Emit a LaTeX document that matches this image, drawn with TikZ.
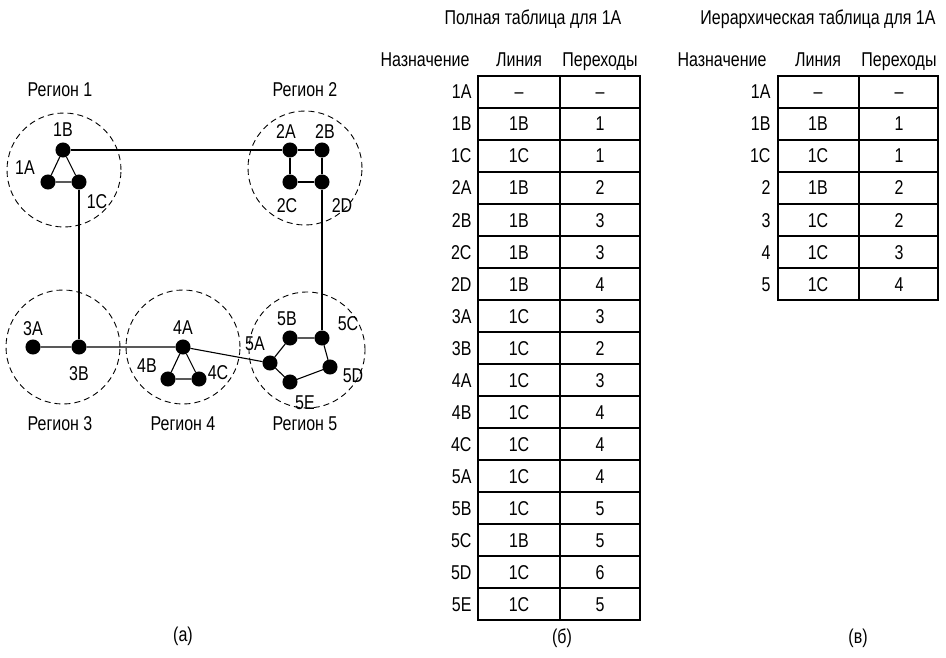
\documentclass[tikz,border=0pt]{standalone}
\usepackage{fontspec}
\setmainfont{Liberation Sans}[FakeStretch=0.8]
\usetikzlibrary{positioning}

\begin{document}
\begin{tikzpicture}[x=1pt, y=-1pt, line width=1.1pt,
		every node/.style={font=\fontsize{20}{23}\selectfont, inner sep=0pt, text height=14pt, text depth=0pt},
		router/.style={circle, fill, draw, minimum size=11pt, inner sep=0pt},
		region/.style={dash pattern=on 6pt off 4pt, line width=0.9pt},
		cell/.style={line width=1.3pt}]
	\useasboundingbox (0,0) rectangle (946,658);
	% regions
	\draw[region] (64,170) circle (57pt);
	\draw[region] (305,168) circle (57pt);
	\draw[region] (63,347) circle (57pt);
	\draw[region] (183,347) circle (57pt);
	\draw[region] (307,350) circle (58pt);
	\node (r1) at (60,90) {Регион 1};
	\node (r2) at (305,90) {Регион 2};
	\node (r3) at (60,423) {Регион 3};
	\node (r4) at (183,423) {Регион 4};
	\node (r5) at (305,423) {Регион 5};
	% routers
	\foreach \name/\x/\y in {1A/48/182, 1B/63/150, 1C/79/182,
			2A/290/150, 2B/322/150, 2C/290/182, 2D/322/182,
			3A/33/347, 3B/79/347,
			4A/183/347, 4B/168/379, 4C/199/379,
			5A/270/363, 5B/290/338, 5C/322/338, 5D/330/367, 5E/290/382}
		\node[router] (n\name) at (\x,\y) {};
	\foreach \name/\x/\y in {1A/25/168, 1B/63/130, 1C/97/202,
			2A/286/132, 2B/325/132, 2C/287/205, 2D/342/205,
			3A/33/328, 3B/79/373,
			4A/183/327, 4B/147/365, 4C/218/372,
			5A/255/343, 5B/287/318, 5C/348/323, 5D/353/375, 5E/305/402}
		\node (t\name) at (\x,\y) {\name};
	% lines
	\draw (n1A) -- (n1B) -- (n1C) -- (n1A);
	\draw (n2A) -- (n2B) -- (n2D) -- (n2C) -- (n2A);
	\draw (n4A) -- (n4B) -- (n4C) -- (n4A);
	\draw (n5A) -- (n5B) -- (n5C) -- (n5D) -- (n5E) -- (n5A);
	\draw (n1B) -- (n2A);
	\draw (n1C) -- (n3B);
	\draw (n2D) -- (n5C);
	\draw (n3A) -- (n3B) -- (n4A) -- (n5A);
	\node (la) at (183,634) {(а)};

	% full table
	\node (ft) at (533,18) {Полная таблица для 1А};
	\node[anchor=east] (fh1) at (470,60) {Назначение};
	\node (fh2) at (519,60) {Линия};
	\node (fh3) at (600,60) {Переходы};
	\draw[cell] (478,76) rectangle (640,620);
	\draw[cell] (560,76) -- (560,620);
	\foreach \i in {1,...,16}
		\draw[cell] (478,{76+32*\i}) -- (640,{76+32*\i});
	\foreach \d/\l/\h [count=\i] in {1A/–/–, 1B/1B/1, 1C/1C/1, 2A/1B/2, 2B/1B/3, 2C/1B/3,
			2D/1B/4, 3A/1C/3, 3B/1C/2, 4A/1C/3, 4B/1C/4, 4C/1C/4, 5A/1C/4,
			5B/1C/5, 5C/1B/5, 5D/1C/6, 5E/1C/5} {
		\node[anchor=east] (fd\i) at (472,{60+32*\i}) {\d};
		\node (fl\i) at (519,{60+32*\i}) {\l};
		\node (fc\i) at (600,{60+32*\i}) {\h};
	}
	\node (lb) at (562,636) {(б)};

	% hierarchical table
	\node (ht) at (818,18) {Иерархическая таблица для 1А};
	\node[anchor=east] (hh1) at (767,60) {Назначение};
	\node (hh2) at (818,60) {Линия};
	\node (hh3) at (899,60) {Переходы};
	\draw[cell] (778,76) rectangle (938,300);
	\draw[cell] (859,76) -- (859,300);
	\foreach \i in {1,...,6}
		\draw[cell] (778,{76+32*\i}) -- (938,{76+32*\i});
	\foreach \d/\l/\h [count=\i] in {1A/–/–, 1B/1B/1, 1C/1C/1, 2/1B/2, 3/1C/2, 4/1C/3, 5/1C/4} {
		\node[anchor=east] (hd\i) at (771,{60+32*\i}) {\d};
		\node (hl\i) at (818,{60+32*\i}) {\l};
		\node (hc\i) at (899,{60+32*\i}) {\h};
	}
	\node (lc) at (858,636) {(в)};
\end{tikzpicture}
\end{document}
